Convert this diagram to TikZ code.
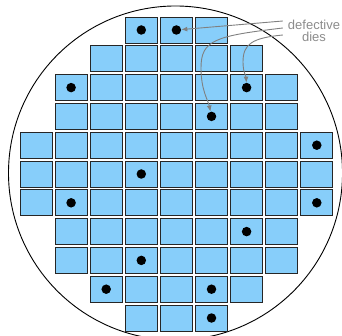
\documentclass[tikz,border=0pt]{standalone}
\usepackage{fontspec}
\setmainfont{Liberation Sans}
\usetikzlibrary{arrows.meta}
\definecolor{die}{RGB}{135,206,250}
\definecolor{lblgray}{RGB}{128,128,128}
\definecolor{txtgray}{RGB}{140,140,140}
\begin{document}
\begin{tikzpicture}[x=1pt,y=-1pt,
  diecell/.style={draw=black!85,line width=0.9pt,fill=die,minimum width=32pt,minimum height=26pt,inner sep=0pt,outer sep=0pt},
  defect/.style={circle,fill=black,minimum size=9.5pt,inner sep=0pt},
  pointer/.style={draw=lblgray,line width=0.9pt,-{Latex[length=6pt,width=5pt]}}]
\useasboundingbox (0,0) rectangle (342,336);
\clip (0,0) rectangle (342,336);
\fill[white] (0,0) rectangle (342,336);
\draw[line width=0.9pt] (175.5,173) circle[radius=167];
\foreach \r/\a/\b in {1/4/6,2/3/7,3/2/8,4/2/8,5/1/9,6/1/9,7/1/9,8/2/8,9/2/8,10/3/7,11/4/6}
  \foreach \c in {\a,...,\b}
    \node[diecell] (c-\c-\r) at ({36+(\c-1)*35.1},{30+(\r-1)*28.8}) {};
\foreach \c/\r in {4/1,5/1,2/3,7/3,6/4,9/5,4/6,2/7,9/7,7/8,4/9,3/10,6/10,6/11}
  \node[defect] (d-\c-\r) at (c-\c-\r) {};
\node[text=txtgray,align=center,font=\fontsize{13}{12}\selectfont,inner sep=0pt] (lbl) at (314,30.5) {defective\\dies};
\draw[pointer] ([xshift=-5pt,yshift=9.5pt]lbl.west) -- (d-5-1);
\draw[pointer] ([xshift=-5pt,yshift=2.5pt]lbl.west) .. controls (215,36) and (201,40) .. (201,68) .. controls (201,90) and (208,100) .. (d-6-4);
\draw[pointer] ([xshift=-5pt,yshift=-4.5pt]lbl.west) .. controls (252,38) and (243,44) .. (243,62) .. controls (243,72) and (246,76) .. (d-7-3);
\end{tikzpicture}
\end{document}
